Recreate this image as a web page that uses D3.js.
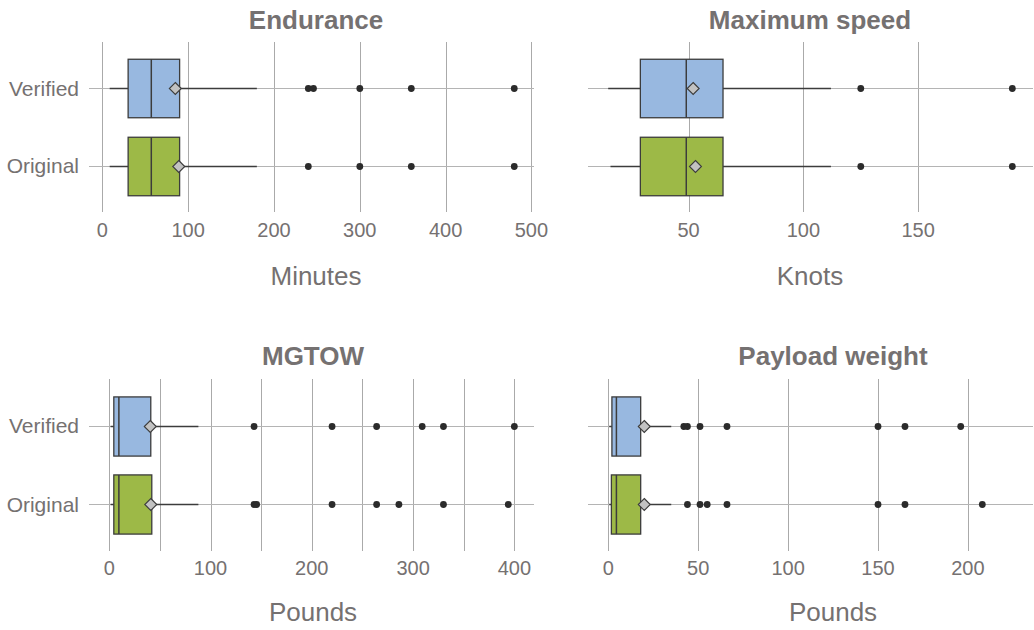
<!DOCTYPE html>
<html>
<head>
<meta charset="utf-8">
<script src="https://cdn.jsdelivr.net/npm/d3@7"></script>
<style>
  body { margin: 0; background: #fff; }
  svg { display: block; font-family: "Liberation Sans", Arial, sans-serif; }
</style>
</head>
<body>
<svg id="chart" width="1034" height="630"></svg>
<script>
const groups = ['Verified', 'Original'];
const groupColor = ['#98b8e0', '#9db947'];

// box stats per group: [low whisker, q1, median, q3, high whisker, mean]
const enduranceStats = [[8.5, 30, 57, 90, 180, 85], [8.5, 30, 57, 90, 180, 89]];
const enduranceOutliers = [[240, 246, 300, 360, 480], [240, 300, 360, 480]];
const enduranceTicks = [0, 100, 200, 300, 400, 500];

const speedStats = [[15, 29, 49, 65, 112, 52], [16, 29, 49, 65, 112, 53]];
const speedOutliers = [[125, 191], [125, 191]];
const speedTicks = [50, 100, 150];

const mgtowStats = [[1.3, 4.5, 9.5, 41, 88, 40.5], [1.3, 4.5, 9.5, 42, 88, 41]];
const mgtowOutliers = [[143, 220, 264, 309, 330, 400], [143, 145.5, 220, 264, 286, 330, 394]];
const mgtowTicks = [0, 100, 200, 300, 400];
const mgtowGrid = [0, 50, 100, 150, 200, 250, 300, 350, 400];

const payloadStats = [[0.5, 2, 4.5, 18, 35, 20], [0.5, 1.7, 4.5, 18, 35, 20]];
const payloadOutliers = [[42, 44, 51, 66, 150, 165, 196], [44, 51, 55, 66, 150, 165, 208]];
const payloadTicks = [0, 50, 100, 150, 200];

const svg = d3.select('#chart');
const textColor = '#757171';

/**
 * one boxplot panel
 * */
function panel(opt) {
  const x = d3.scaleLinear().domain(opt.domain).range([opt.left, opt.right]);
  const y = d3.scaleBand().domain(groups)
    .range([opt.top, opt.bottom])
    .paddingInner(0)
    .paddingOuter(0.09);
  const g = svg.append('g').attr('class', 'panel');
  const bh = y.bandwidth() * 0.75;

  // vertical grid
  g.append('g').selectAll('line')
    .data(opt.grid)
    .enter()
    .append('line')
    .attr('x1', d => Math.round(x(d)) + 0.5)
    .attr('x2', d => Math.round(x(d)) + 0.5)
    .attr('y1', opt.top)
    .attr('y2', opt.bottom)
    .attr('stroke', '#aaa')
    .attr('stroke-width', 1);
  // horizontal grid
  g.append('g').selectAll('line')
    .data(groups)
    .enter()
    .append('line')
    .attr('x1', opt.left)
    .attr('x2', opt.right)
    .attr('y1', d => Math.round(y(d) + y.bandwidth() / 2) + 0.5)
    .attr('y2', d => Math.round(y(d) + y.bandwidth() / 2) + 0.5)
    .attr('stroke', '#b4b4b4')
    .attr('stroke-width', 1);

  // tick labels
  g.append('g').selectAll('text')
    .data(opt.ticks)
    .enter()
    .append('text')
    .attr('x', d => x(d))
    .attr('y', opt.tickY)
    .attr('text-anchor', 'middle')
    .attr('font-size', 20)
    .attr('fill', textColor)
    .text(d => d);

  if (opt.yLabels) {
    g.append('g').selectAll('text')
      .data(groups)
      .enter()
      .append('text')
      .attr('x', 79)
      .attr('y', d => y(d) + y.bandwidth() / 2 + 7.5)
      .attr('text-anchor', 'end')
      .attr('font-size', 21)
      .attr('fill', textColor)
      .text(d => d);
  }

  groups.forEach((grp, i) => {
    const s = opt.stats[i];
    const cy = Math.round(y(grp) + y.bandwidth() / 2) + 0.5;
    const b = g.append('g').attr('class', 'box');
    b.append('line')
      .attr('x1', x(s[0])).attr('x2', x(s[1]))
      .attr('y1', cy).attr('y2', cy)
      .attr('stroke', '#3c3c3c').attr('stroke-width', 1.5);
    b.append('line')
      .attr('x1', x(s[3])).attr('x2', x(s[4]))
      .attr('y1', cy).attr('y2', cy)
      .attr('stroke', '#3c3c3c').attr('stroke-width', 1.5);
    b.append('rect')
      .attr('x', x(s[1]))
      .attr('y', cy - bh / 2)
      .attr('width', x(s[3]) - x(s[1]))
      .attr('height', bh)
      .attr('fill', groupColor[i])
      .attr('stroke', '#3c3c3c')
      .attr('stroke-width', 1.3);
    b.append('line')
      .attr('x1', x(s[2])).attr('x2', x(s[2]))
      .attr('y1', cy - bh / 2).attr('y2', cy + bh / 2)
      .attr('stroke', '#3c3c3c').attr('stroke-width', 1.5);
    // outliers
    b.selectAll('circle')
      .data(opt.outliers[i])
      .enter()
      .append('circle')
      .attr('cx', d => x(d))
      .attr('cy', cy)
      .attr('r', 3.4)
      .attr('fill', '#2b2b2b');
    // mean diamond
    const r = 6;
    const mx = x(s[5]);
    b.append('path')
      .attr('d', `M${mx},${cy - r}L${mx + r},${cy}L${mx},${cy + r}L${mx - r},${cy}Z`)
      .attr('fill', '#c2c2c2')
      .attr('stroke', '#3c3c3c')
      .attr('stroke-width', 1.1);
  });

  g.append('text')
    .attr('x', opt.titleX)
    .attr('y', opt.titleY)
    .attr('text-anchor', 'middle')
    .attr('font-size', 26)
    .attr('font-weight', 'bold')
    .attr('fill', textColor)
    .text(opt.title);
  g.append('text')
    .attr('x', opt.titleX)
    .attr('y', opt.axisTitleY)
    .attr('text-anchor', 'middle')
    .attr('font-size', 26)
    .attr('fill', textColor)
    .text(opt.axisTitle);
}

panel({
  title: 'Endurance', axisTitle: 'Minutes', stats: enduranceStats, outliers: enduranceOutliers,
  ticks: enduranceTicks, grid: enduranceTicks, domain: [-15.6, 503],
  left: 89, right: 534, top: 42, bottom: 212, tickY: 237, titleX: 316, titleY: 29, axisTitleY: 285, yLabels: true
});
panel({
  title: 'Maximum speed', axisTitle: 'Knots', stats: speedStats, outliers: speedOutliers,
  ticks: speedTicks, grid: speedTicks, domain: [6.2, 200],
  left: 588, right: 1033, top: 42, bottom: 212, tickY: 237, titleX: 810, titleY: 29, axisTitleY: 285, yLabels: false
});
panel({
  title: 'MGTOW', axisTitle: 'Pounds', stats: mgtowStats, outliers: mgtowOutliers,
  ticks: mgtowTicks, grid: mgtowGrid, domain: [-20, 419.4],
  left: 89, right: 534, top: 379, bottom: 551, tickY: 575, titleX: 313, titleY: 365, axisTitleY: 621, yLabels: true
});
panel({
  title: 'Payload weight', axisTitle: 'Pounds', stats: payloadStats, outliers: payloadOutliers,
  ticks: payloadTicks, grid: payloadTicks, domain: [-11.3, 236.2],
  left: 588, right: 1033, top: 379, bottom: 551, tickY: 575, titleX: 833, titleY: 365, axisTitleY: 621, yLabels: false
});
</script>
</body>
</html>
